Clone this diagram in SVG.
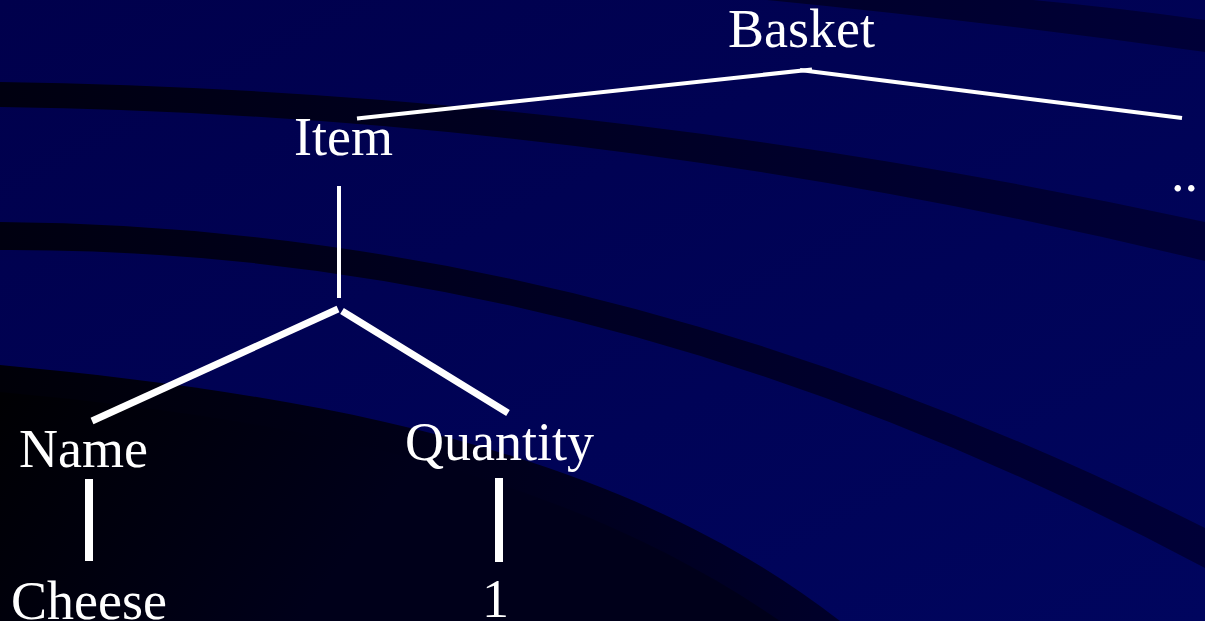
<svg xmlns="http://www.w3.org/2000/svg" width="1205" height="621" viewBox="0 0 1205 621">
  <defs>
    <linearGradient id="bg" x1="0" y1="0" x2="1" y2="1">
      <stop offset="0" stop-color="#00004c"/>
      <stop offset="1" stop-color="#00055e"/>
    </linearGradient>
    <linearGradient id="band" gradientUnits="userSpaceOnUse" x1="0" y1="0" x2="1205" y2="0">
      <stop offset="0" stop-color="#000010"/>
      <stop offset="1" stop-color="#000038"/>
    </linearGradient>
    <linearGradient id="outer" gradientUnits="userSpaceOnUse" x1="0" y1="380" x2="840" y2="621">
      <stop offset="0" stop-color="#000008"/>
      <stop offset="1" stop-color="#00002a"/>
    </linearGradient>
    <linearGradient id="inner" gradientUnits="userSpaceOnUse" x1="0" y1="400" x2="300" y2="621">
      <stop offset="0" stop-color="#000003"/>
      <stop offset="1" stop-color="#00001a"/>
    </linearGradient>
    <style>
      .lbl { font-family: "Liberation Serif", "Times New Roman", serif; font-size: 54px; fill: #ffffff; }
      .thin { stroke: #ffffff; stroke-width: 4; fill: none; }
      .thick { stroke: #ffffff; stroke-width: 7; fill: none; }
      .bar { stroke: #ffffff; stroke-width: 8; fill: none; }
    </style>
  </defs>

  <g id="background">
    <rect x="0" y="0" width="1205" height="621" fill="url(#bg)"/>
    <path d="M767,0 L1033,0 Q1120,8 1205,20 L1205,52 Q990,22 767,0 Z" fill="url(#band)"/>
    <path d="M0,82 Q602.5,91 1205,222 L1205,261 Q602.5,115 0,107 Z" fill="url(#band)"/>
    <path d="M0,222 Q602.5,226 1205,528 L1205,568 Q602.5,247 0,250 Z" fill="url(#band)"/>
    <path d="M0,365 C320,395 620,450 840,621 L0,621 Z" fill="url(#outer)"/>
    <path d="M0,392 C300,420 560,470 780,621 L0,621 Z" fill="url(#inner)"/>
  </g>

  <g id="connectors">
    <line class="thin" x1="357" y1="118.5" x2="812" y2="69.5"/>
    <line class="thin" x1="800" y1="70" x2="1182" y2="118"/>
    <line class="thin" x1="339" y1="186" x2="339" y2="298"/>
    <line class="thick" x1="338" y1="309" x2="92" y2="421"/>
    <line class="thick" x1="342" y1="311" x2="508" y2="413"/>
    <line class="bar" x1="89" y1="479" x2="89" y2="561"/>
    <line class="bar" x1="499" y1="478" x2="499" y2="562"/>
  </g>

  <g id="node-basket"><text class="lbl" x="728" y="47">Basket</text></g>
  <g id="node-item"><text class="lbl" x="294" y="155">Item</text></g>
  <g id="node-more"><text class="lbl" x="1171" y="191">..</text></g>
  <g id="node-name"><text class="lbl" x="19" y="467">Name</text></g>
  <g id="node-quantity"><text class="lbl" x="405" y="460">Quantity</text></g>
  <g id="node-cheese"><text class="lbl" x="11" y="619">Cheese</text></g>
  <g id="node-one"><text class="lbl" x="482" y="617">1</text></g>
</svg>
